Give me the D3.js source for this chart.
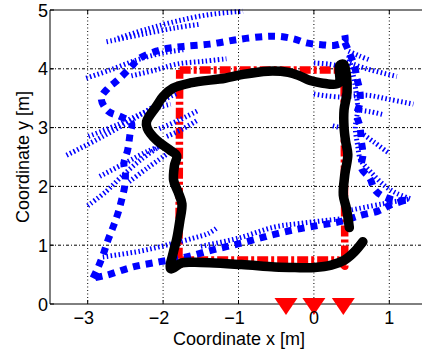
<!DOCTYPE html>
<html><head><meta charset="utf-8">
<script src="https://cdn.jsdelivr.net/npm/d3@7"></script>
<style>html,body{margin:0;padding:0;background:#fff;}svg{display:block;}</style>
</head><body>
<svg id="chart" width="422" height="349"></svg>
<script>
// ---------- data ----------
const xTicks = [-3, -2, -1, 0, 1];
const yTicks = [0, 1, 2, 3, 4, 5];
const xTickLabels = ["\u22123", "\u22122", "\u22121", "0", "1"];
const yTickLabels = ["0", "1", "2", "3", "4", "5"];
const xLabel = "Coordinate x [m]";
const yLabel = "Coordinate y [m]";

// anchors (red triangles)
const anchorX = [-0.37, 0.0, 0.39];

// ground truth (red dash-dot)
const truthPath = [[-1.78,3.98],[0.40,3.98],[0.41,0.64],[0.32,0.75],[-1.72,0.75],[-1.79,0.64],[-1.78,3.98]];

// estimated trajectory (black)
const blackPath = [[0.65,1.06],[0.54,0.89],[0.41,0.75],[0.23,0.66],[0.01,0.62],[-0.25,0.62],[-0.52,0.63],[-0.96,0.67],
  [-1.58,0.71],[-1.75,0.70],[-1.90,0.60],[-1.86,0.90],[-1.82,1.10],[-1.78,1.40],[-1.75,1.70],[-1.80,1.90],[-1.86,2.10],
  [-1.85,2.35],[-1.82,2.52],[-1.91,2.62],[-2.09,2.79],[-2.21,2.99],[-2.22,3.10],[-2.09,3.36],[-2.00,3.53],[-1.87,3.67],
  [-1.64,3.76],[-1.18,3.84],[-0.96,3.90],[-0.61,3.96],[-0.34,3.94],[-0.19,3.88],[-0.05,3.80],[0.10,3.76],[0.33,3.76],
  [0.34,4.05],[0.39,4.08],[0.43,3.90],[0.44,3.60],[0.40,3.30],[0.40,3.00],[0.42,2.77],[0.45,2.54],[0.41,2.20],
  [0.39,1.85],[0.43,1.63],[0.47,1.30]];

// thick blue (square dotted) tracks
const thickLeftTop = [[-2.93,0.44],[-2.86,0.63],[-2.79,0.86],[-2.73,1.09],[-2.66,1.32],[-2.60,1.54],[-2.55,1.77],
  [-2.51,2.00],[-2.50,2.22],[-2.52,2.39],[-2.47,2.62],[-2.44,2.88],[-2.42,3.08],[-2.57,3.19],[-2.73,3.28],[-2.82,3.50],
  [-2.73,3.67],[-2.60,3.81],[-2.44,4.01],[-2.31,4.18],[-2.09,4.30],[-1.93,4.35],[-1.73,4.38],[-1.38,4.42],[-1.00,4.50],
  [-0.65,4.55],[-0.45,4.55],[-0.27,4.51],[-0.10,4.44],[0.10,4.41],[0.28,4.40],[0.41,4.47],[0.39,4.67]];
const thickRight = [[0.41,4.45],[0.54,4.04],[0.57,3.84],[0.61,3.62],[0.61,3.42],[0.57,3.22],[0.61,3.02],[0.63,2.77],
  [0.65,2.54],[0.63,2.31],[0.74,2.14],[0.81,1.94],[0.92,1.83],[1.10,1.76],[1.25,1.77]];
const thickBottom = [[1.20,1.76],[1.01,1.68],[0.85,1.58],[0.63,1.51],[0.34,1.40],[0.08,1.34],[-0.27,1.26],[-0.63,1.15],
  [-0.98,1.03],[-1.34,0.92],[-1.69,0.80],[-2.04,0.72],[-2.40,0.63],[-2.75,0.49],[-2.93,0.44]];

// thin blue (hatched dotted) tracks
const thin1 = [[-2.75,4.46],[-2.30,4.58],[-1.82,4.70],[-1.50,4.76]];
const thin2 = [[-2.60,4.52],[-2.20,4.68],[-1.82,4.81],[-1.40,4.92],[-0.94,4.98]];
const thin3 = [[-3.02,3.84],[-2.70,3.98],[-2.35,4.15],[-2.00,4.27],[-1.70,4.33]];
const thin4 = [[-2.42,3.88],[-2.10,3.98],[-1.82,4.08],[-1.45,4.13],[-1.16,4.17]];
const thin5 = [[-3.28,2.53],[-2.80,2.85],[-2.31,3.21],[-1.95,3.50],[-1.82,3.58]];
const thin6 = [[-2.99,2.85],[-2.60,3.05],[-2.17,3.30],[-1.90,3.40]];
const thin7 = [[-2.05,2.98],[-1.80,3.12],[-1.55,3.28]];
const thin8 = [[-1.95,2.85],[-1.75,2.97],[-1.55,3.12]];
const thin9 = [[-3.00,1.67],[-2.75,1.92],[-2.55,2.17],[-2.30,2.45],[-2.05,2.68]];
const thin10 = [[-2.45,2.08],[-2.20,2.32],[-1.95,2.55]];
const thin11 = [[-2.84,2.17],[-2.50,2.40],[-2.20,2.60],[-2.00,2.70]];
const thin12 = [[-2.80,0.80],[-2.30,0.90],[-1.90,1.02],[-1.60,1.12],[-1.40,1.20],[-1.28,1.30]];
const thin13 = [[-1.50,0.98],[-1.00,1.12],[-0.52,1.31],[-0.19,1.37],[0.37,1.45]];
const thin14 = [[0.50,1.60],[0.90,1.70],[1.28,1.79]];
const thin15 = [[0.46,4.22],[0.52,3.90],[0.56,3.60],[0.58,3.30],[0.55,3.00],[0.58,2.70],[0.62,2.45],[0.75,2.25],
  [0.95,2.00],[1.10,1.88],[1.28,1.79]];
const thin16 = [[0.43,4.12],[0.70,4.00],[1.10,3.87]];
const thin17 = [[0.00,3.57],[0.35,3.52],[0.70,3.55],[1.00,3.48],[1.32,3.40]];
const thin18 = [[0.46,4.30],[0.60,4.22],[0.74,4.15]];
const thin19 = [[0.57,3.30],[0.75,3.27],[0.92,3.22]];
const thin20 = [[0.62,2.92],[0.80,2.75],[0.98,2.58]];
const thin21 = [[0.00,4.10],[0.20,4.08],[0.33,4.05]];
const thin22 = [[0.25,3.03],[0.42,2.98]];

const thickTracks = [thickLeftTop, thickRight, thickBottom];
const thinTracks = [thin1,thin2,thin3,thin4,thin5,thin6,thin7,thin8,thin9,thin10,thin11,thin12,thin13,thin14,
  thin15,thin16,thin17,thin18,thin19,thin20,thin21,thin22];

// ---------- layout ----------
const L = 50, R = 427, T = 10, B = 304;
const x = d3.scaleLinear().domain([-3.5, 1.5]).range([L, R]);
const y = d3.scaleLinear().domain([0, 5]).range([B, T]);
const svg = d3.select("#chart");
const font = "'Liberation Sans', Arial, Helvetica, sans-serif";

// grid
const grid = svg.append("g");
grid.selectAll(".gx").data(xTicks).join("line")
  .attr("x1", d => x(d)).attr("x2", d => x(d)).attr("y1", T).attr("y2", B)
  .attr("stroke", "#000").attr("stroke-width", 1).attr("stroke-dasharray", "1,2.5");
grid.selectAll(".gy").data(yTicks.filter(d => d > 0 && d < 5)).join("line")
  .attr("x1", L).attr("x2", R).attr("y1", d => y(d)).attr("y2", d => y(d))
  .attr("stroke", "#000").attr("stroke-width", 1).attr("stroke-dasharray", "3,2,1,2");

const line = d3.line().x(d => x(d[0])).y(d => y(d[1]));
const smooth = d3.line().x(d => x(d[0])).y(d => y(d[1])).curve(d3.curveCatmullRom.alpha(0.5));

// ground truth
svg.append("path").attr("d", line(truthPath)).attr("fill", "none")
  .attr("stroke", "#ff0000").attr("stroke-width", 7.5).attr("stroke-linejoin", "round")
  .attr("stroke-dasharray", "11,3,3,3");

// thin blue
svg.append("g").selectAll("path").data(thinTracks).join("path")
  .attr("d", d => smooth(d)).attr("fill", "none").attr("stroke", "#0000ff")
  .attr("stroke-width", 5).attr("stroke-dasharray", "1.5,2.5");

// thick blue
svg.append("g").selectAll("path").data(thickTracks).join("path")
  .attr("d", d => smooth(d)).attr("fill", "none").attr("stroke", "#0000ff")
  .attr("stroke-width", 7).attr("stroke-dasharray", "7,6");

// black estimate
svg.append("path").attr("d", smooth(blackPath)).attr("fill", "none")
  .attr("stroke", "#000").attr("stroke-width", 9.5).attr("stroke-linejoin", "round").attr("stroke-linecap", "round");

// axes box
svg.append("path").attr("d", `M${L},${T}H${R}M${L},${T}V${B}H${R}`)
  .attr("fill", "none").attr("stroke", "#000").attr("stroke-width", 1);

// ticks (inward)
const tk = svg.append("g").attr("stroke", "#000").attr("stroke-width", 1);
xTicks.forEach(v => {
  tk.append("line").attr("x1", x(v)).attr("x2", x(v)).attr("y1", B).attr("y2", B - 4);
  tk.append("line").attr("x1", x(v)).attr("x2", x(v)).attr("y1", T).attr("y2", T + 4);
});
yTicks.forEach(v => {
  tk.append("line").attr("x1", L).attr("x2", L + 4).attr("y1", y(v)).attr("y2", y(v));
});

// anchors (downward triangles)
svg.append("g").selectAll("path").data(anchorX).join("path")
  .attr("d", "M-11.5,-6L11.5,-6L0,11Z").attr("transform", d => `translate(${x(d)},${y(0)})`)
  .attr("fill", "#ff0000");

// tick labels
svg.append("g").selectAll("text").data(xTicks).join("text")
  .attr("x", (d, i) => x(d) - (xTickLabels[i].length > 1 ? 4 : 0)).attr("y", 324)
  .attr("text-anchor", "middle").attr("font-family", font).attr("font-size", 18).attr("fill", "#000")
  .text((d, i) => xTickLabels[i]);
svg.append("g").selectAll("text").data(yTicks).join("text")
  .attr("x", 48).attr("y", d => y(d) + 6.5)
  .attr("text-anchor", "end").attr("font-family", font).attr("font-size", 18).attr("fill", "#000")
  .text((d, i) => yTickLabels[i]);

// axis titles
svg.append("text").attr("x", 239).attr("y", 344.5).attr("text-anchor", "middle")
  .attr("font-family", font).attr("font-size", 18).attr("fill", "#000").text(xLabel);
svg.append("text").attr("transform", "translate(29,157) rotate(-90)").attr("text-anchor", "middle")
  .attr("font-family", font).attr("font-size", 18).attr("fill", "#000").text(yLabel);
</script>
</body></html>
